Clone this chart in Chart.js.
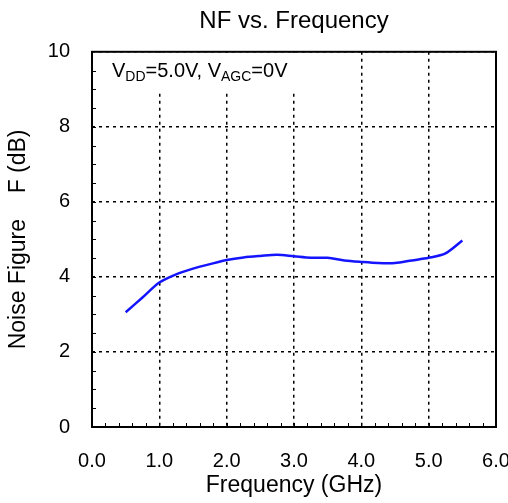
<!DOCTYPE html>
<html lang="en">
<head>
    <meta charset="UTF-8">
    <title>NF vs. Frequency</title>
    <script src="https://cdn.jsdelivr.net/npm/chart.js@4.4.0/dist/chart.umd.min.js"></script>
    <style>
        body {
            margin: 0;
            background: #ffffff;
        }
    </style>
</head>
<body>
<canvas id="myChart" width="508" height="503"></canvas>

<script>
    // frequency (GHz) and noise figure (dB)
    var freqGHz = [0.5, 0.75, 1.0, 1.25, 1.5, 1.75, 2.0, 2.25, 2.5, 2.75, 3.0,
                   3.25, 3.5, 3.75, 4.0, 4.25, 4.5, 4.75, 5.0, 5.25, 5.5];
    var noiseFigure = [3.06, 3.45, 3.85, 4.07, 4.22, 4.34, 4.45, 4.52, 4.56, 4.59, 4.55,
                       4.51, 4.51, 4.44, 4.40, 4.37, 4.37, 4.44, 4.51, 4.63, 4.97];
    var xTicks = [0, 1, 2, 3, 4, 5, 6];
    var yTicks = [0, 2, 4, 6, 8, 10];

    var points = [];
    for (var i = 0; i < freqGHz.length; i++) {
        points.push({x: freqGHz[i], y: noiseFigure[i]});
    }

    var fontName = "'Liberation Sans', Arial, sans-serif";

    // frame, inward minor ticks and the bias note
    var framePlugin = {
        id: "frame",
        beforeDatasetsDraw: function(chart) {
            var ctx = chart.ctx;
            var a = chart.chartArea;
            ctx.save();
            ctx.fillStyle = "#ffffff";
            ctx.fillRect(a.left + 1, a.top + 1, 208, 39);
            ctx.fillStyle = "#000000";
            ctx.textBaseline = "alphabetic";
            var x = a.left + 20;
            var y = a.top + 25;
            var parts = [["V", 20, 0], ["DD", 14, 4], ["=5.0V, V", 20, 0], ["AGC", 14, 4], ["=0V", 20, 0]];
            for (var k = 0; k < parts.length; k++) {
                ctx.font = parts[k][1] + "px " + fontName;
                ctx.fillText(parts[k][0], x, y + parts[k][2]);
                x += ctx.measureText(parts[k][0]).width;
            }
            ctx.restore();
        },
        afterDraw: function(chart) {
            var ctx = chart.ctx;
            var a = chart.chartArea;
            var xs = chart.scales.x;
            var ys = chart.scales.y;
            ctx.save();
            ctx.strokeStyle = "#000000";
            ctx.lineWidth = 1;
            ctx.beginPath();
            for (var v = 0.2; v < 6; v += 0.2) {
                var px = Math.round(xs.getPixelForValue(v)) + 0.5;
                ctx.moveTo(px, a.bottom);
                ctx.lineTo(px, a.bottom - 4);
            }
            for (var w = 0.5; w < 10; w += 0.5) {
                var py = Math.round(ys.getPixelForValue(w)) + 0.5;
                ctx.moveTo(a.left, py);
                ctx.lineTo(a.left + 4, py);
            }
            ctx.stroke();
            ctx.lineWidth = 2;
            ctx.strokeRect(a.left, a.top, a.right - a.left, a.bottom - a.top);
            ctx.restore();
        }
    };

    let ctx = document.getElementById("myChart").getContext("2d");
    let myChart = new Chart(ctx, {
        type: "line",
        data: {
            datasets: [{
                data: points,
                borderColor: "#1414ff",
                borderWidth: 2.5,
                pointRadius: 0,
                tension: 0.3,
                fill: false
            }]
        },
        options: {
            responsive: false,
            animation: false,
            layout: {padding: {left: 0, right: 12, top: 0, bottom: 0}},
            plugins: {
                legend: {display: false},
                tooltip: {enabled: false},
                title: {
                    display: true,
                    text: "NF vs. Frequency",
                    fullSize: false,
                    color: "#000000",
                    font: {family: fontName, size: 24, weight: "normal"},
                    padding: {top: 7, bottom: 16}
                }
            },
            scales: {
                x: {
                    type: "linear",
                    min: 0,
                    max: 6,
                    afterBuildTicks: function(scale) {
                        scale.ticks = xTicks.map(function(v) { return {value: v}; });
                    },
                    afterFit: function(scale) {
                        scale.height = 76;
                        scale.paddingLeft = 0;
                        scale.paddingRight = 0;
                    },
                    ticks: {
                        color: "#000000",
                        font: {family: fontName, size: 20},
                        padding: 22,
                        maxRotation: 0,
                        callback: function(v) { return v.toFixed(1); }
                    },
                    grid: {color: "#000000", lineWidth: 1.5, drawTicks: false},
                    border: {display: false, dash: [3, 4]},
                    title: {
                        display: true,
                        text: "Frequency (GHz)",
                        color: "#000000",
                        font: {family: fontName, size: 23},
                        padding: {top: 0, bottom: 4}
                    }
                },
                y: {
                    min: 0,
                    max: 10,
                    afterBuildTicks: function(scale) {
                        scale.ticks = yTicks.map(function(v) { return {value: v}; });
                    },
                    afterFit: function(scale) { scale.width = 92; },
                    ticks: {
                        color: "#000000",
                        font: {family: fontName, size: 20},
                        padding: 22
                    },
                    grid: {color: "#000000", lineWidth: 1.5, drawTicks: false},
                    border: {display: false, dash: [3, 4]},
                    title: {
                        display: true,
                        text: "Noise Figure    F (dB)",
                        color: "#000000",
                        font: {family: fontName, size: 23},
                        padding: {top: 5, bottom: 0}
                    }
                }
            }
        },
        plugins: [framePlugin]
    });
</script>
</body>
</html>
